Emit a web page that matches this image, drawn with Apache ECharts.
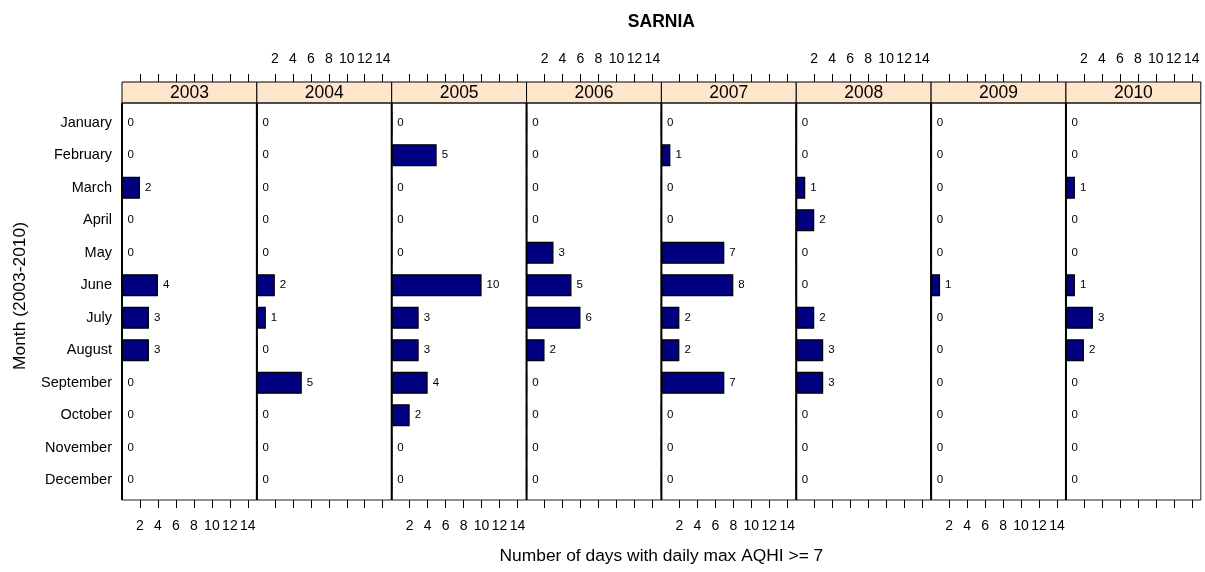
<!DOCTYPE html>
<html><head><meta charset="utf-8">
<script src="https://cdn.jsdelivr.net/npm/echarts@6/dist/echarts.min.js"></script>
<style>html,body{margin:0;padding:0;background:#fff}#c{width:1205px;height:572px}</style>
</head><body><div id="c"></div>
<script>
// ---- data ----
const months = ['January','February','March','April','May','June','July','August','September','October','November','December'];
const years = ['2003','2004','2005','2006','2007','2008','2009','2010'];
const v2003 = [0,0,2,0,0,4,3,3,0,0,0,0];
const v2004 = [0,0,0,0,0,2,1,0,5,0,0,0];
const v2005 = [0,5,0,0,0,10,3,3,4,2,0,0];
const v2006 = [0,0,0,0,3,5,6,2,0,0,0,0];
const v2007 = [0,1,0,0,7,8,2,2,7,0,0,0];
const v2008 = [0,0,1,2,0,0,2,3,3,0,0,0];
const v2009 = [0,0,0,0,0,1,0,0,0,0,0,0];
const v2010 = [0,0,1,0,0,1,3,2,0,0,0,0];
const xTicks = [2,4,6,8,10,12,14];
const mainTitle = 'SARNIA';
const xName = 'Number of days with daily max AQHI >= 7';
const yName = 'Month (2003-2010)';

const values = [v2003,v2004,v2005,v2006,v2007,v2008,v2009,v2010];

// ---- layout ----
const FONT = '"Liberation Sans", Arial, sans-serif';
const L = 122, W = 134.85, PT = 103, PB = 500, ST = 82;
const band = 32.5;
const pad = (PB - PT - band * months.length) / 2;
const XMAX = 15;

const grid = [], xAxis = [], yAxis = [], series = [], graphic = [];
years.forEach((yr, i) => {
  const left = L + i * W;
  grid.push({left: left, top: PT + pad, width: W, height: band * months.length, containLabel: false});
  const labelTop = (i % 2 === 1), labelBottom = (i % 2 === 0);
  const common = {
    type: 'value', gridIndex: i, min: 0, max: XMAX, interval: 2,
    axisLine: {show: false}, splitLine: {show: false},
    axisTick: {show: true, length: 8, inside: false, customValues: xTicks, lineStyle: {color: '#000', width: 1}}
  };
  xAxis.push(Object.assign({}, common, {
    position: 'bottom', offset: PB - (PT + pad + band * months.length),
    axisLabel: {show: labelBottom, customValues: xTicks, margin: 19.5, fontSize: 14, fontFamily: FONT, color: '#000'}
  }));
  xAxis.push(Object.assign({}, common, {
    position: 'top', offset: (PT + pad) - ST,
    axisLabel: {show: labelTop, customValues: xTicks, margin: 15.5, fontSize: 14, fontFamily: FONT, color: '#000'}
  }));
  yAxis.push({
    type: 'category', gridIndex: i, data: months, inverse: true, boundaryGap: true,
    axisLine: {show: false}, axisTick: {show: false}, splitLine: {show: false},
    axisLabel: {show: i === 0, margin: 10, fontSize: 14.5, fontFamily: FONT, color: '#000'}
  });
  series.push({
    type: 'bar', name: yr, xAxisIndex: 2 * i, yAxisIndex: i, data: values[i],
    barWidth: 22,
    itemStyle: {color: '#000080', borderColor: '#000', borderWidth: 1.2},
    label: {show: true, position: 'right', distance: 5, fontSize: 11.5, fontFamily: FONT, color: '#000'},
    silent: true, animation: false
  });
  // strip
  graphic.push({type: 'rect', shape: {x: left, y: ST, width: W, height: PT - ST},
    style: {fill: '#ffe5cc', stroke: '#000', lineWidth: 1}, z: 5});
  graphic.push({type: 'text', x: left + W / 2, y: (ST + PT) / 2 + 0.5, z: 6,
    style: {text: yr, fill: '#000', fontSize: 17.5, fontFamily: FONT, align: 'center', verticalAlign: 'middle'}});
  // panel border
  graphic.push({type: 'rect', shape: {x: left, y: PT, width: W, height: PB - PT},
    style: {fill: 'none', stroke: '#222', lineWidth: 1}, z: 5});
  graphic.push({type: 'line', shape: {x1: left, y1: PT, x2: left, y2: PB},
    style: {stroke: '#000', lineWidth: 2}, z: 6});
});

graphic.push({type: 'text', x: L + 4 * W, y: 22, z: 6,
  style: {text: mainTitle, fill: '#000', fontSize: 17.5, fontWeight: 'bold', fontFamily: FONT, align: 'center', verticalAlign: 'middle'}});
graphic.push({type: 'text', x: L + 4 * W, y: 556, z: 6,
  style: {text: xName, fill: '#000', fontSize: 17.4, fontFamily: FONT, align: 'center', verticalAlign: 'middle'}});
graphic.push({type: 'text', x: 20, y: 296, rotation: Math.PI / 2, z: 6,
  style: {text: yName, fill: '#000', fontSize: 17.4, fontFamily: FONT, align: 'center', verticalAlign: 'middle'}});

const chart = echarts.init(document.getElementById('c'), null, {renderer: 'canvas'});
chart.setOption({
  backgroundColor: '#fff',
  animation: false,
  grid, xAxis, yAxis, series, graphic
});
</script></body></html>
